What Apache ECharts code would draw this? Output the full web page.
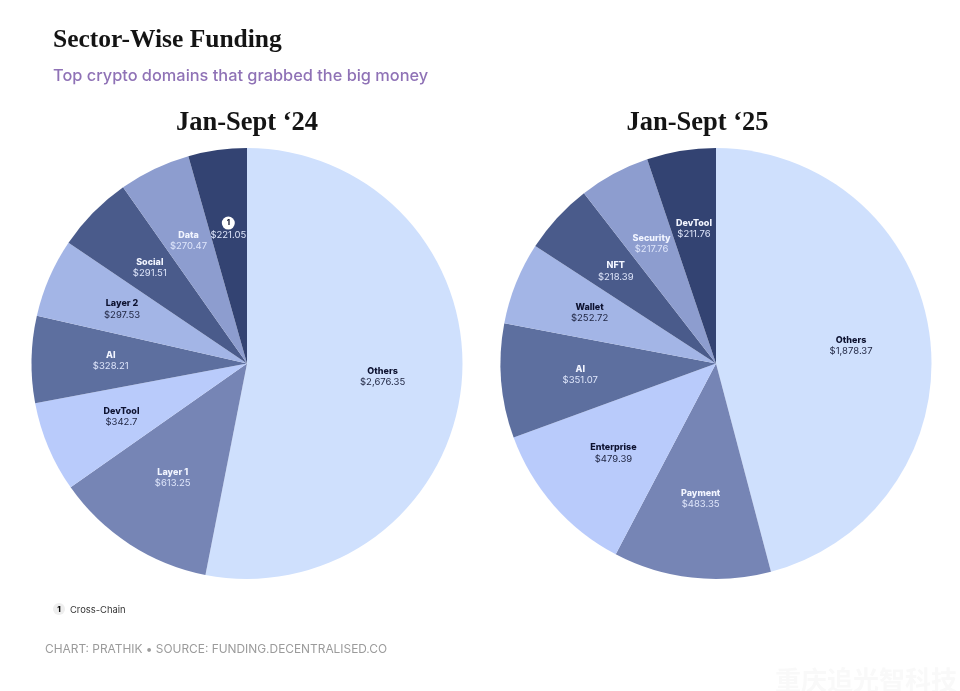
<!DOCTYPE html>
<html><head><meta charset="utf-8">
<style>html,body{margin:0;padding:0;background:#fff}#c{width:960px;height:691px}</style>
<script src="https://cdn.jsdelivr.net/npm/echarts@6/dist/echarts.min.js"></script>
</head><body><div id="c"></div>
<script>
var sectors24 = ['Others','Layer 1','DevTool','AI','Layer 2','Social','Data','Cross-Chain'];
var values24  = [2676.35,613.25,342.7,328.21,297.53,291.51,270.47,221.05];
var sectors25 = ['Others','Payment','Enterprise','AI','Wallet','NFT','Security','DevTool'];
var values25  = [1878.37,483.35,479.39,351.07,252.72,218.39,217.76,211.76];
var sliceColors = ['#cfe0fd','#7685b5','#b9cbfb','#5d6f9f','#a3b5e6','#4a5b8b','#8d9dcf','#334372'];
var darkText = [true,false,true,false,true,false,false,false];

var serif = '"Liberation Serif","DejaVu Serif",serif';
var sans = 'Inter,Roboto,sans-serif';

function fmt(v){
  return '$' + v.toLocaleString('en-US',{maximumFractionDigits:2});
}
function makeData(names, vals, forLabels){
  return names.map(function(n,i){
    var dark = darkText[i];
    var isBadge = n === 'Cross-Chain';
    return {
      name: n, value: vals[i],
      itemStyle: {color: forLabels ? 'rgba(0,0,0,0)' : sliceColors[i]},
      label: {
        formatter: (isBadge ? '{badge|1}' : '{n|' + n + '}') + '\n{v|' + fmt(vals[i]) + '}',
        rich: {
          n: {fontFamily: sans, fontSize: 9, fontWeight: 800, lineHeight: 11,
              color: dark ? '#0d1230' : '#f2f5ff', align:'center'},
          v: {fontFamily: sans, fontSize: 9.5, fontWeight: 400, lineHeight: 11,
              color: dark ? '#1e2440' : '#dfe6fb', align:'center'},
          badge: {fontFamily: sans, fontSize: 7.5, fontWeight: 800, color:'#10142c',
              backgroundColor:'#ffffff', borderRadius:7, width:13, height:13,
              lineHeight:13, align:'center'}
        }
      }
    };
  });
}
function pieSeries(names, vals, cx){
  return [
    {type:'pie', silent:true, animation:false, startAngle:90, clockwise:true, center:[cx,363.5],
     radius:[0,215.5], label:{show:false}, labelLine:{show:false}, itemStyle:{borderWidth:0},
     data: makeData(names, vals, false)},
    {type:'pie', silent:true, animation:false, startAngle:90, clockwise:true, center:[cx,363.5],
     radius:[51,215.5], z:5, label:{show:true, position:'inside'}, labelLine:{show:false},
     emphasis:{disabled:true}, data: makeData(names, vals, true)}
  ];
}
var chart = echarts.init(document.getElementById('c'), null, {renderer:'canvas'});
chart.setOption({
  backgroundColor:'#ffffff',
  animation:false,
  title:[
    {text:'Sector-Wise Funding', left:48, top:22, textStyle:{fontFamily:serif,fontSize:25.5,fontWeight:'bold',color:'#141414'}},
    {text:'Top crypto domains that grabbed the big money', left:48, top:63, textStyle:{fontFamily:sans,fontSize:16.35,fontWeight:500,color:'#8f72b6'}},
    {text:'Jan-Sept \u201824', left:242, textAlign:'center', top:105, textStyle:{fontFamily:serif,fontSize:26.5,fontWeight:'bold',color:'#141414'}},
    {text:'Jan-Sept \u201825', left:692.5, textAlign:'center', top:105, textStyle:{fontFamily:serif,fontSize:26.5,fontWeight:'bold',color:'#141414'}},
    {text:'Cross-Chain', left:65, top:601, textStyle:{fontFamily:sans,fontSize:9.4,fontWeight:400,color:'#333'}},
    {text:'CHART: PRATHIK \u2022 SOURCE: FUNDING.DECENTRALISED.CO', left:40, top:638, textStyle:{fontFamily:sans,fontSize:11.9,fontWeight:400,color:'#9b9b9b'}},
    {text:'\u91cd\u5e86\u8ffd\u5149\u667a\u79d1\u6280', left:770, top:662, textStyle:{fontFamily:'"Noto Sans CJK SC"',fontSize:26,fontWeight:'bold',color:'#f9f9f9'}}
  ],
  graphic:[
    {type:'circle', shape:{cx:59,cy:609,r:6}, style:{fill:'#eeeeee'}},
    {type:'text', style:{x:59,y:609.5,text:'1',fill:'#111',font:'800 8px Inter',textAlign:'center',textVerticalAlign:'middle'}}
  ],
  series: pieSeries(sectors24, values24, 247).concat(pieSeries(sectors25, values25, 716))
});
</script></body></html>
